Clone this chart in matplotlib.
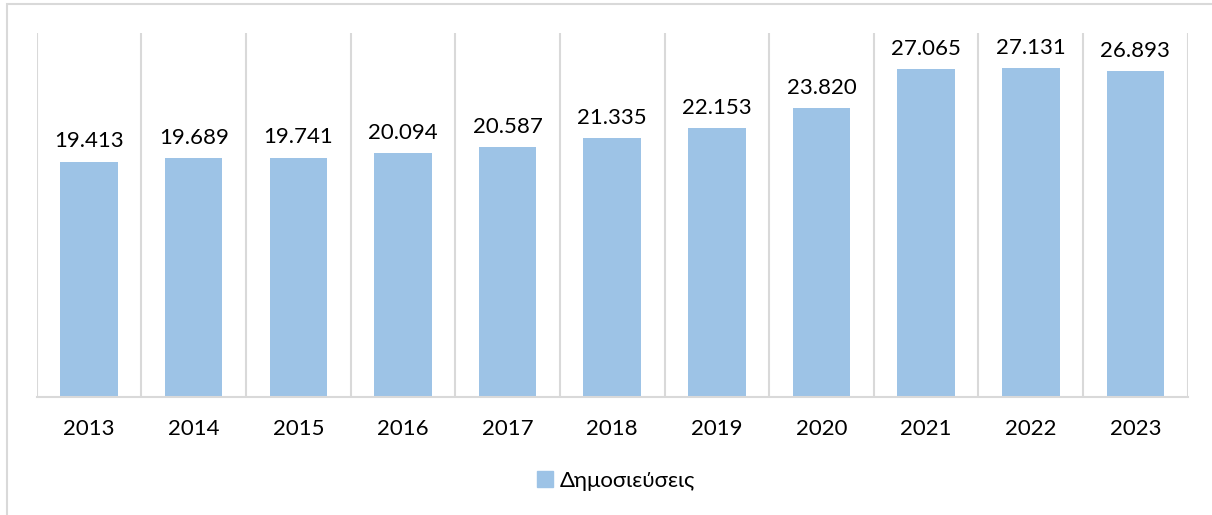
import matplotlib.pyplot as plt
import matplotlib.patches as mpatches
import numpy as np

years = ['2013', '2014', '2015', '2016', '2017', '2018', '2019', '2020', '2021', '2022', '2023']
publications = [19413, 19689, 19741, 20094, 20587, 21335, 22153, 23820, 27065, 27131, 26893]
labels = ['19.413', '19.689', '19.741', '20.094', '20.587', '21.335', '22.153', '23.820', '27.065', '27.131', '26.893']
series_name = 'Δημοσιεύσεις'

bar_color = '#9DC3E6'
grid_color = '#D9D9D9'
plt.rcParams['font.family'] = ['Lato', 'DejaVu Sans']

W, H = 1212, 515
fig = plt.figure(figsize=(W / 100, H / 100), dpi=100)
ax = fig.add_axes([36.7 / W, 1 - 396.7 / H, (1187.7 - 36.7) / W, (396.7 - 33.3) / H])

x = np.arange(len(years))
bars = ax.bar(x, publications, width=0.55, color=bar_color, zorder=2, label=series_name)
for xi, v, lab in zip(x, publications, labels):
    ax.text(xi, v + 850, lab, ha='center', va='bottom', fontsize=16, color='black')

ax.set_xlim(-0.5, len(years) - 0.5)
ax.set_ylim(0, 30000)
ax.set_xticks(x)
ax.set_xticklabels(years, fontsize=16)
ax.set_xticks(np.arange(-0.5, len(years)), minor=True)
ax.tick_params(axis='x', which='both', length=0, pad=16)
ax.set_yticks([])
ax.grid(axis='x', which='minor', color=grid_color, linewidth=1.5, zorder=0)
for s in ['top', 'left', 'right']:
    ax.spines[s].set_visible(False)
ax.spines['bottom'].set_color(grid_color)
ax.spines['bottom'].set_linewidth(1.5)

leg = fig.legend(handles=[mpatches.Patch(color=bar_color, label=series_name)],
                 loc='center', bbox_to_anchor=(616 / W, 1 - 481 / H), frameon=False,
                 fontsize=16, handlelength=0.7, handleheight=0.7, handletextpad=0.3)

# outer chart border
fig.patches.append(mpatches.Rectangle((7 / W, -0.1), 1.1, 1 - 4 / H + 0.1, transform=fig.transFigure,
                                      fill=False, edgecolor=grid_color, linewidth=1.5))

fig.savefig('out.png', dpi=100)
